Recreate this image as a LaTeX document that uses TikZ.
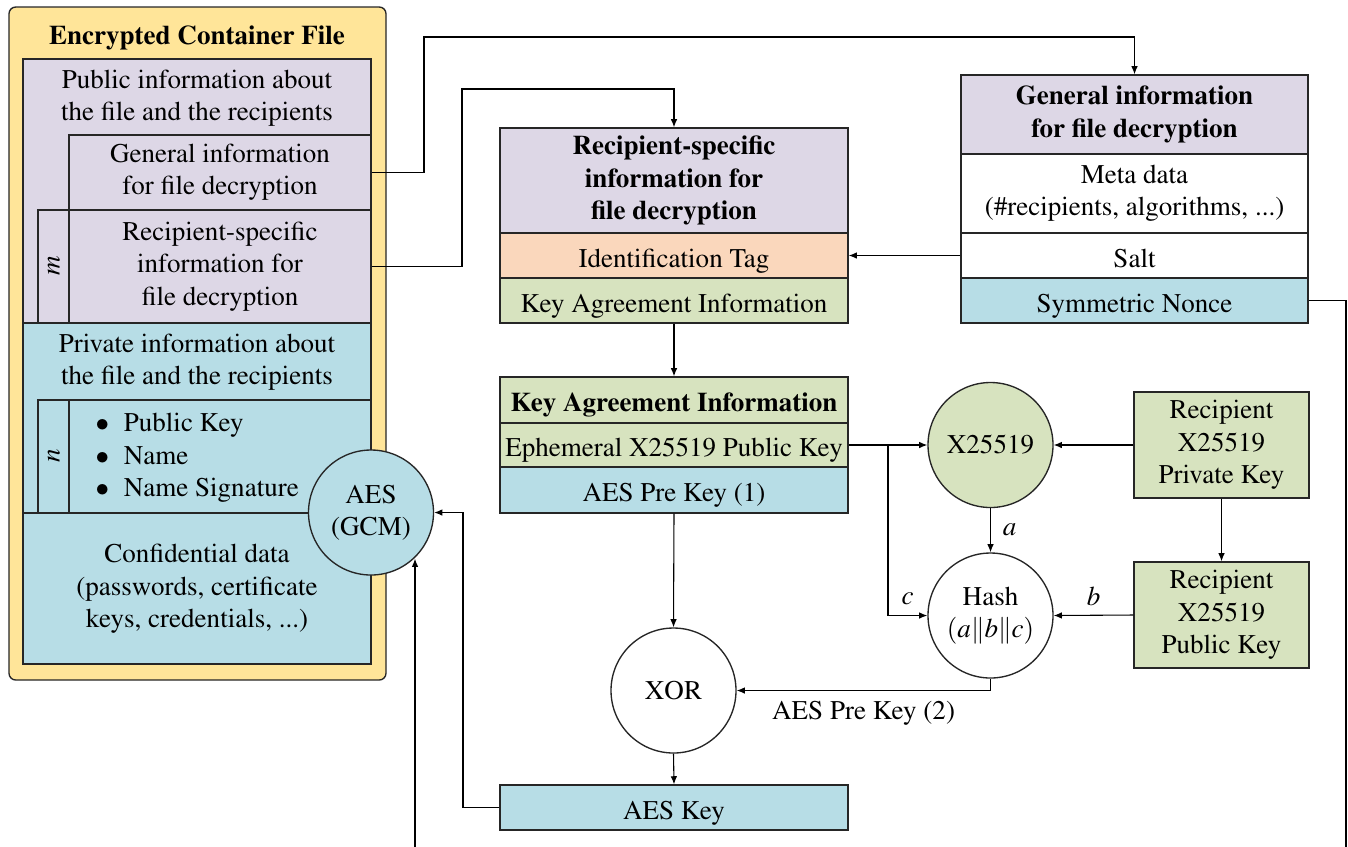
\documentclass[tikz,border=0pt]{standalone}
\usepackage[T1]{fontenc}
\usepackage{mathptmx}
\usetikzlibrary{arrows.meta,calc}
\definecolor{cyel}{HTML}{FFE599}
\definecolor{clav}{HTML}{DDD7E6}
\definecolor{cblu}{HTML}{B7DDE6}
\definecolor{cgrn}{HTML}{D7E3BF}
\definecolor{cpch}{HTML}{FAD7BC}
\def\pxu{0.37pt}
\begin{document}
\begin{tikzpicture}[x=0.37pt,y=-0.37pt,
  bx/.style={draw=black!85, line width=0.5pt, inner sep=0pt, align=center},
  sz/.style 2 args={minimum width={#1*\pxu}, minimum height={#2*\pxu}},
  one/.style={text height=8.6pt, text depth=0pt},
  circ/.style={circle, draw=black!85, line width=0.5pt, inner sep=0pt, minimum size={125*\pxu}, align=center},
  txt/.style={align=center, inner sep=0pt},
  arr/.style={-{Latex[length=3pt,width=2.4pt]}, line width=0.4pt}]
\useasboundingbox (0,0) rectangle (1348,846);
\clip (0,0) rectangle (1348,846);

% container
\node[bx, sz={377}{673}, fill=cyel, rounded corners=2.5pt] (cont) at (197.5,343.5) {};
\node[txt, font=\bfseries] (title) at (197,37.5) {Encrypted Container File};
\node[bx, sz={348}{264}, fill=clav] (pub) at (197,191) {};
\node[txt] (pubt) at (197,98.5) {Public information about\\the file and the recipients};
\node[bx, sz={302}{75}, fill=clav] (gi) at (220,172.5) {General information\\for file decryption};
\node[bx, sz={31}{113}, fill=clav] (mbox) at (53.5,266.5) {};
\node[txt, rotate=90] (mlab) at (54,266) {$m$};
\node[bx, sz={302}{113}, fill=clav] (ri) at (220,266.5) {Recipient-specific\\information for\\file decryption};
\node[bx, sz={348}{341}, fill=cblu] (priv) at (197,493.5) {};
\node[txt] (privt) at (197,362) {Private information about\\the file and the recipients};
\node[bx, sz={31}{113}, fill=cblu] (nbox) at (53.5,456.5) {};
\node[txt, rotate=90] (nlab) at (54,456) {$n$};
\node[bx, sz={302}{113}, fill=cblu] (items) at (220,456.5) {};
\node[txt, anchor=west, align=left] (itemst) at (95,458)
  {\makebox[10.5pt][l]{$\bullet$}Public Key\\\makebox[10.5pt][l]{$\bullet$}Name\\\makebox[10.5pt][l]{$\bullet$}Name Signature};
\node[bx, sz={348}{151}, fill=cblu] (conf) at (197,588.5) {};
\node[txt] (conft) at (197,589) {Confidential data\\(passwords, certificate\\keys, credentials, ...)};
\node[circ, fill=cblu] (aes) at (371,512.5) {AES\\(GCM)};

% recipient-specific box
\node[bx, sz={348}{105}, fill=clav, font=\bfseries] (rsh) at (674,180.5) {Recipient-specific\\information for\\file decryption};
\node[bx, one, sz={348}{45}, fill=cpch] (idt) at (674,255.5) {Identification Tag};
\node[bx, one, sz={348}{45}, fill=cgrn] (kai) at (674,300.5) {Key Agreement Information};

% general info box
\node[bx, sz={347}{79}, fill=clav, font=\bfseries] (gen) at (1134.5,114.5) {General information\\for file decryption};
\node[bx, sz={347}{79}, fill=white] (meta) at (1134.5,193.5) {Meta data\\(\#recipients, algorithms, ...)};
\node[bx, one, sz={347}{45}, fill=white] (salt) at (1134.5,255.5) {Salt};
\node[bx, one, sz={347}{45}, fill=cblu] (nonce) at (1134.5,300.5) {Symmetric Nonce};

% key agreement box
\node[bx, one, sz={348}{46}, fill=cgrn, font=\bfseries] (kah) at (674,400) {Key Agreement Information};
\node[bx, one, sz={348}{44}, fill=cgrn] (eph) at (674,445) {Ephemeral X25519 Public Key};
\node[bx, one, sz={348}{46}, fill=cblu] (apk) at (674,490) {AES Pre Key (1)};

\node[circ, fill=cgrn] (x25) at (990.5,445) {X25519};
\node[circ, fill=white] (hash) at (990.5,615.5) {Hash\\$(a\|b\|c)$};
\node[bx, sz={175}{106}, fill=cgrn] (prk) at (1221.5,445) {Recipient\\X25519\\Private Key};
\node[bx, sz={175}{106}, fill=cgrn] (puk) at (1221.5,615) {Recipient\\X25519\\Public Key};
\node[circ, fill=white] (xor) at (673.5,690.5) {XOR};
\node[bx, one, sz={348}{45}, fill=cblu] (aesk) at (674,807.5) {AES Key};

% connectors
\coordinate (g1) at (424,37);
\draw[arr] (gi.east) -| (g1) -| (gen.north);
\coordinate (r1) at (462,89);
\draw[arr] (ri.east) -| (r1) -| (rsh.north);
\draw[arr] (salt.west) -- (idt.east);
\draw[arr] (kai.south) -- (kah.north);
\draw[arr] (eph.east) -- (x25.west);
\coordinate (br) at (888,445);
\draw[arr] (br) |- (hash.west) node[pos=0.75, above=0.5pt] {$c$};
\draw[arr] (prk.west) -- (x25.east);
\draw[arr] (x25.south) -- (hash.north) node[midway, right=1pt] {$a$};
\draw[arr] (prk.south) -- (puk.north);
\draw[arr] (puk.west) -- (hash.east) node[midway, above=0pt] {$b$};
\draw[arr] (hash.south) |- (xor.east) node[pos=0.75, below=0.5pt] {AES Pre Key (2)};
\draw[arr] (apk.south) -- (xor.north);
\draw[arr] (xor.south) -- (aesk.north);
\coordinate (k1) at (463,512.5);
\draw[arr] (aesk.west) -| (k1) -- (aes.east);
\coordinate (nb1) at (1346,880);
\coordinate (ab1) at (415,880);
\draw[arr] (nonce.east) -| (nb1) -- (ab1) -- (ab1 |- aes.-47);
\end{tikzpicture}
\end{document}
